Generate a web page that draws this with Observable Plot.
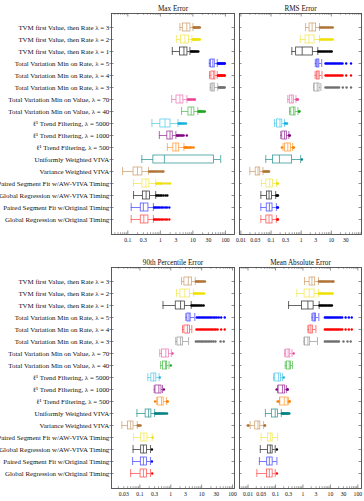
<!DOCTYPE html>
<html><head><meta charset="utf-8">
<script src="https://cdn.jsdelivr.net/npm/d3@7"></script>
<script src="https://cdn.jsdelivr.net/npm/@observablehq/plot@0.6"></script>
<style>
body{margin:0;background:#fff;}
#wrap{position:relative;width:364px;height:501px;overflow:hidden;}
#wrap > div{position:absolute;}
</style></head><body><div id="wrap"></div>
<script>
const categories = [
  "TVM first Value, then Rate λ = 3",
  "TVM first Value, then Rate λ = 2",
  "TVM first Value, then Rate λ = 1",
  "Total Variation Min on Rate, λ = 5",
  "Total Variation Min on Rate, λ = 4",
  "Total Variation Min on Rate, λ = 3",
  "Total Variation Min on Value, λ = 70",
  "Total Variation Min on Value, λ = 40",
  "ℓ¹ Trend Filtering, λ = 5000",
  "ℓ¹ Trend Filtering, λ = 1000",
  "ℓ¹ Trend Filtering, λ = 500",
  "Uniformly Weighted VIVA",
  "Variance Weighted VIVA",
  "Paired Segment Fit w/AW-VIVA Timing",
  "Global Regression w/AW-VIVA Timing",
  "Paired Segment Fit w/Original Timing",
  "Global Regression w/Original Timing"
];
const colorNames = ["brown","yellow","black","blue","red","gray","pink","green","cyan","violet","orange","teal","brown","yellow","black","blue","red"];

// [whisker low, Q1, median, Q3, whisker high]
const maxStats = [
  [4.0,4.9,6.5,8.4,10],[3.17,4.3,5.7,7.55,9.3],[2.33,4.0,5.3,6.8,8.1],
  [32,35.6,41,47,56],[32.5,37,42.5,49,56],[34,37.5,41,47,58],
  [2.23,3.13,4.0,5.1,6.55],[4.5,7.3,8.9,11.1,14.2],
  [0.55,1.0,1.39,2.05,3.47],[0.93,1.64,1.98,2.4,3.0],[1.64,2.5,3.0,3.8,5.3],
  [0.27,0.61,1.33,44.8,71.7],[0.069,0.15,0.198,0.28,0.43],
  [0.15,0.28,0.36,0.46,0.72],[0.15,0.29,0.365,0.48,0.72],
  [0.127,0.25,0.30,0.43,0.61],[0.127,0.25,0.31,0.43,0.61]
];
const maxOutliers = [
  [10.5,11,11.6,12.2,12.9,13.6,14.4,15.3,16.4],
  [9.8,10.4,11,11.7,12.4,13.2,14.1,15.2,16.4],
  [8.7,9.3,9.9,10.6,11.4,12.3,13.4,14.7],
  [58,61,64,67,70,74,78,82,87,92,96],
  [58,61,64,67,70,74,78,82,87,92,96],
  [62,66,70,74,79,84,90,95],
  [7.0,7.5,8.0,8.6,9.3,10.1,11.0,11.5],
  [14.7,15.5,16.4,17.4,18.6,19.9,21.5,23.3],
  [3.6,3.8,4.0,4.3,4.6,5.0,5.5,6.1],
  [3.2,3.4,3.6,3.9,4.3,4.7,5.2,6.5],
  [5.5,5.8,6.1,6.5,7.0,7.6,8.3,9.2,10.5],
  [],
  [0.45,0.49,0.53,0.58,0.63,0.69,0.76,0.84,0.93,1.04,1.15,1.24],
  [0.75,0.82,0.9,1.0,1.1,1.25,1.45,1.7,1.98],
  [0.75,0.82,0.9,1.0,1.1,1.25,1.45,1.64],
  [0.64,0.7,0.77,0.85,0.95,1.07,1.2,1.4,1.6,1.88],
  [0.64,0.7,0.77,0.85,0.95,1.07,1.2,1.4,1.6,1.88]
];

const rmsStats = [
  [1.40,1.89,2.31,3.13,4.05],[0.93,1.40,1.8,2.77,4.05],[0.49,0.68,1.08,2.43,3.55],
  [2.94,3.3,3.55,4.0,4.8],[2.9,3.3,3.6,4.1,4.9],[2.6,2.77,3.4,4.05,4.5],
  [0.36,0.42,0.49,0.57,0.67],[0.41,0.47,0.56,0.65,0.78],
  [0.13,0.158,0.198,0.236,0.28],[0.21,0.236,0.28,0.337,0.39],[0.25,0.29,0.36,0.46,0.52],
  [0.067,0.116,0.19,0.50,0.96],[0.0198,0.031,0.037,0.044,0.054],
  [0.048,0.07,0.09,0.116,0.15],[0.046,0.074,0.086,0.108,0.143],
  [0.046,0.072,0.088,0.112,0.15],[0.046,0.07,0.086,0.112,0.15]
];
const rmsOutliers = [
  [4.2,4.6,5.0,5.5,6.0,6.6,7.3,8.1,9.0,10.0,11.1],
  [4.2,4.6,5.0,5.5,6.0,6.6,7.3,8.1,9.0,10.0,11.1],
  [3.7,4.1,4.5,5.0,5.5,6.1,6.8,7.6,8.5,9.4,10.3],
  [6.4,7.0,7.7,8.5,9.4,10.4,11.5,12.7,14,15.5,17.2,19,21,23.5,31,45],
  [6.4,7.0,7.7,8.5,9.4,10.4,11.5,12.7,14,15.5,17.2,19,21,23.5,31,45],
  [6.4,7.2,8.0,9.0,10.1,11.3,12.7,14.2,16,18,24,32,45],
  [0.7,0.74,0.78],
  [0.84,0.88],
  [0.29,0.31,0.34],
  [0.40,0.42],
  [0.23,0.54,0.57],
  [1.05],
  [0.056,0.06,0.064,0.069,0.074,0.08,0.086],
  [0.16,0.17],
  [0.15,0.16,0.17],
  [0.16,0.17],
  [0.16,0.17]
];

const p90Stats = [
  [2.23,2.76,3.71,4.83,6.2],[1.53,2.04,2.86,4.16,5.5],[0.56,1.45,2.07,2.86,4.58],
  [3.08,3.45,3.9,4.4,6.0],[2.4,2.76,3.45,4.16,4.8],[1.45,1.65,2.07,2.51,3.77],
  [0.44,0.52,0.69,0.88,1.04],[0.47,0.56,0.67,0.76,0.88],
  [0.18,0.235,0.28,0.34,0.42],[0.29,0.32,0.41,0.5,0.54],[0.35,0.39,0.5,0.59,0.72],
  [0.08,0.153,0.19,0.235,0.3],[0.026,0.041,0.05,0.062,0.082],
  [0.062,0.11,0.135,0.175,0.25],[0.06,0.11,0.13,0.17,0.22],
  [0.058,0.107,0.13,0.168,0.22],[0.05,0.105,0.13,0.168,0.22]
];
const p90Outliers = [
  [6.5,7.0,7.6,8.2,8.9,9.7,10.6,11.6,12.8],
  [5.6,6.1,6.6,7.2,7.9,8.7,9.6,10.7,12.0],
  [4.7,5.1,5.6,6.1,6.7,7.4,8.2,9.1,10.2,11.6],
  [7.0,7.8,8.7,9.7,10.8,12,13.4,15,16.8,18.8,21,24,27,31,36,43,56],
  [6.8,7.6,8.5,9.5,10.6,11.8,13.2,14.8,16.5,18.5,20.7,23,26,29,33,43,56],
  [6.5,7.3,8.2,9.2,10.3,11.5,13,14.6,16.4,18.5,21,24,28,41,52],
  [1.14],
  [1.0],
  [0.44],
  [0.6],
  [0.31,0.76,0.8],
  [0.31,0.33,0.35,0.38,0.41,0.44,0.48,0.52,0.57,0.62,0.68,0.76],
  [0.085,0.09,0.096,0.105],
  [0.26],
  [0.245],
  [0.245],
  [0.25]
];

const maeStats = [
  [1.15,1.75,2.13,2.8,3.7],[0.6,1.15,1.7,2.66,3.7],[0.30,0.92,1.52,2.45,3.9],
  [2.13,2.4,2.62,2.97,3.8],[1.52,1.72,1.95,2.3,2.97],[1.09,1.18,1.52,1.84,3.4],
  [0.216,0.247,0.29,0.345,0.4],[0.227,0.26,0.317,0.366,0.42],
  [0.086,0.098,0.13,0.158,0.18],[0.12,0.13,0.18,0.226,0.25],[0.14,0.15,0.21,0.28,0.3],
  [0.043,0.074,0.098,0.123,0.163],[0.012,0.0183,0.023,0.028,0.037],
  [0.03,0.053,0.065,0.079,0.12],[0.028,0.053,0.065,0.079,0.098],
  [0.026,0.05,0.06,0.079,0.113],[0.021,0.049,0.06,0.079,0.098]
];
const maeOutliers = [
  [3.8,4.2,4.6,5.1,5.6,6.2,6.9,7.7,8.6,9.6,10.8,12,13],
  [3.8,4.2,4.6,5.1,5.6,6.2,6.9,7.7,8.6,9.6,10.8,12],
  [4.0,4.4,4.9,5.4,6.0,6.7,7.4,8.3,9.2,10.3,11.4],
  [6.3,7.0,7.8,8.7,9.7,10.8,12,13.4,15,16.8,18.8,21,24,27,36,47,60],
  [6.3,7.0,7.8,8.7,9.7,10.8,12,13.4,15,16.8,18.8,21,24,27,36,47,60],
  [6.3,7.1,8.0,9.0,10.1,11.4,12.8,14.4,16.2,18.2,20.5,30,42,55],
  [0.46],
  [],
  [0.2],
  [0.11,0.27,0.28],
  [0.12,0.13,0.32,0.33],
  [0.17,0.18,0.19,0.2,0.215,0.23,0.25,0.27,0.29,0.32],
  [0.0098,0.0105,0.04,0.042],
  [],
  [0.113],
  [],
  [0.113]
];

// tick labels per panel
const maxTicks = ["0.1","0.3","1","3","10","30","100"];
const rmsTicks = ["0.01","0.03","0.1","0.3","1","3","10","30"];
const p90Ticks = ["0.03","0.1","0.3","1","3","10","30","100"];
const maeTicks = ["0.01","0.03","0.1","0.3","1","3","10","30","100"];

const dotColor = {brown:"#b07438", yellow:"#efe000", black:"#000000", blue:"#0000ff", red:"#ff0000", gray:"#6e6e6e", pink:"#e8479a", green:"#1fa71f", cyan:"#17b2de", violet:"#800080", orange:"#ff8000", teal:"#008080"};
const boxColor = {brown:"#d2a679", yellow:"#f3e85a", black:"#404040", blue:"#5555ff", red:"#ff5a5a", gray:"#a2a2a2", pink:"#ee80bb", green:"#5cc25c", cyan:"#5fcdeb", violet:"#a040a0", orange:"#ffa346", teal:"#3a9a9a"};

const FONT = "'Liberation Serif', 'DejaVu Serif', serif";

function panel({stats, outliers, domain, tickLabels, title, showLabels, width, height, mt, mb, ml, mr}) {
  const rows = categories.map((c, i) => ({cat: c, i, lo: stats[i][0], q1: stats[i][1], med: stats[i][2], q3: stats[i][3], hi: stats[i][4]}));
  const outs = outliers.flatMap((arr, i) => arr.map(v => ({cat: categories[i], i, v})));
  const fh = height - mt - mb;
  const fw = width - ml - mr;
  const decades = [];
  const minor = [];
  for (let e = -3; e <= 2; e++) {
    const b = Math.pow(10, e);
    if (b >= domain[0] && b <= domain[1]) decades.push(b);
    for (let k = 2; k <= 9; k++) { const v = k * b; if (v >= domain[0] && v <= domain[1]) minor.push(v); }
  }
  const bc = d => boxColor[colorNames[d.i]];
  const dc = d => dotColor[colorNames[d.i]];
  const tickColor = "#444";
  return Plot.plot({
    width, height, marginTop: mt, marginBottom: mb, marginLeft: ml, marginRight: mr,
    style: {overflow: "visible", fontFamily: FONT, fontSize: "6.9px", background: "transparent", color: "#111"},
    x: {type: "log", domain, axis: null},
    y: {domain: categories, paddingInner: 0.32, paddingOuter: 0.56, axis: showLabels ? "left" : null, tickSize: 0, tickPadding: 2.2, label: null},
    color: {type: "identity"},
    marks: [
      Plot.ruleX(minor, {x: d => d, insetTop: fh - 1.8, stroke: tickColor, strokeWidth: 0.5}),
      Plot.ruleX(minor, {x: d => d, insetBottom: fh - 1.8, stroke: tickColor, strokeWidth: 0.5}),
      Plot.ruleX(decades, {x: d => d, insetTop: fh - 3.5, stroke: tickColor, strokeWidth: 0.6}),
      Plot.ruleX(decades, {x: d => d, insetBottom: fh - 3.5, stroke: tickColor, strokeWidth: 0.6}),
      Plot.text(tickLabels, {x: d => +d, text: d => d, frameAnchor: "bottom", lineAnchor: "top", dy: 3.2, fontSize: 5.7, fill: "#111"}),
      Plot.ruleY(categories, {y: d => d, insetRight: fw - 2.5, insetLeft: showLabels ? -1.5 : 0, stroke: tickColor, strokeWidth: 0.6}),
      Plot.ruleY(categories, {y: d => d, insetLeft: fw - 2.5, stroke: tickColor, strokeWidth: 0.6}),
      Plot.ruleY(rows, {y: "cat", x1: "lo", x2: "q1", stroke: bc, strokeWidth: 0.8}),
      Plot.ruleY(rows, {y: "cat", x1: "q3", x2: "hi", stroke: bc, strokeWidth: 0.8}),
      Plot.tickX(rows, {y: "cat", x: "lo", stroke: bc, strokeWidth: 0.8}),
      Plot.tickX(rows, {y: "cat", x: "hi", stroke: bc, strokeWidth: 0.8}),
      Plot.barX(rows, {y: "cat", x1: "q1", x2: "q3", fill: "none", stroke: bc, strokeWidth: 0.8}),
      Plot.tickX(rows, {y: "cat", x: "med", stroke: bc, strokeWidth: 0.8}),
      Plot.dot(outs, {x: "v", y: "cat", r: 1.2, fill: dc, stroke: "none"}),
      Plot.frame({stroke: "#4a4a4a", strokeWidth: 0.9}),
      Plot.text([title], {text: d => d, frameAnchor: "top", dy: -7.5, fontSize: 7.2})
    ]
  });
}

const wrap = document.getElementById("wrap");
function place(node, left, top) {
  const d = document.createElement("div");
  d.style.left = left + "px"; d.style.top = top + "px";
  d.appendChild(node); wrap.appendChild(d);
}
place(panel({stats: maxStats, outliers: maxOutliers, domain: [0.0315, 190], tickLabels: maxTicks, title: "Max Error", showLabels: true, width: 236, height: 250, mt: 13, mb: 16, ml: 111, mr: 2}), 0, 0);
place(panel({stats: rmsStats, outliers: rmsOutliers, domain: [0.009, 100], tickLabels: rmsTicks, title: "RMS Error", showLabels: false, width: 128, height: 250, mt: 13, mb: 16, ml: 3, mr: 3}), 236, 0);
place(panel({stats: p90Stats, outliers: p90Outliers, domain: [0.012, 116], tickLabels: p90Ticks, title: "90th Percentile Error", showLabels: true, width: 236, height: 251, mt: 17, mb: 13, ml: 111, mr: 2}), 0, 250);
place(panel({stats: maeStats, outliers: maeOutliers, domain: [0.0049, 136], tickLabels: maeTicks, title: "Mean Absolute Error", showLabels: false, width: 128, height: 251, mt: 17, mb: 13, ml: 3, mr: 3}), 236, 250);
</script></body></html>
